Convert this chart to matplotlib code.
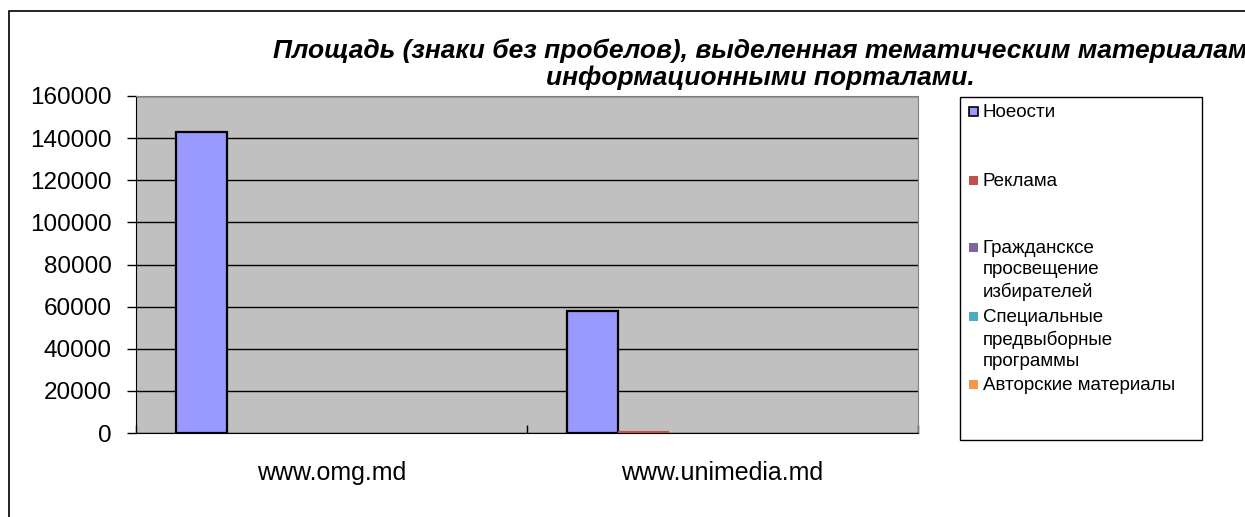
import matplotlib
matplotlib.use("Agg")
import matplotlib.pyplot as plt
from matplotlib.patches import Rectangle
import numpy as np

categories = ["www.omg.md", "www.unimedia.md"]
series_names = ["Ноeости", "Реклама", "Граждансксе\nпросвещение\nизбирателей",
                "Специальные\nпредвыборные\nпрограммы", "Авторские материалы"]
novosti = [143000, 58000]
reklama = [0, 900]
grazhd = [0, 0]
spec = [0, 0]
avtor = [0, 0]
series_values = [novosti, reklama, grazhd, spec, avtor]
colors = ["#9999FF", "#C0504D", "#8064A2", "#4BACC6", "#F79646"]
yticks = [0, 20000, 40000, 60000, 80000, 100000, 120000, 140000, 160000]

plt.rcParams['font.family'] = ['Liberation Sans', 'DejaVu Sans']

W, H = 1245, 517
fig = plt.figure(figsize=(W / 100, H / 100), dpi=100)
fig.patch.set_facecolor("white")

# outer chart border
fig.add_artist(Rectangle((9 / W, -0.05), 1.1, (H - 11) / H + 0.05, transform=fig.transFigure,
                         fill=False, edgecolor="black", linewidth=1.2))

ax = fig.add_axes([136 / W, 84 / H, 782 / W, 337 / H])
ax.set_facecolor("#C0C0C0")
ax.set_axisbelow(True)
ax.yaxis.grid(True, color="black", linewidth=1.0)

x = np.arange(len(categories))
bw = 0.13
start = -0.398
for i, (vals, c) in enumerate(zip(series_values, colors)):
    left = x + start + i * bw
    if i == 0:
        ax.bar(left, vals, width=bw, align="edge", color=c, edgecolor="black", linewidth=1.6, zorder=3)
    else:
        ax.bar(left, vals, width=bw, align="edge", color=c, edgecolor="none", zorder=3)

ax.set_xlim(-0.5, 1.5)
ax.set_ylim(0, 160000)
ax.set_yticks(yticks)
ax.set_yticklabels([str(v) for v in yticks], fontsize=17.5)
ax.set_xticks(x)
ax.set_xticklabels(categories, fontsize=18)
ax.tick_params(axis="x", length=0, pad=20)
ax.tick_params(axis="y", length=6.5, width=1, direction="out", pad=11)
# category boundary ticks
ax.set_xticks([-0.5, 0.5, 1.5], minor=True)
ax.tick_params(axis="x", which="minor", direction="in", length=6, width=1)
for s in ["top", "right"]:
    ax.spines[s].set_color("#808080")
ax.spines["left"].set_color("black")
ax.spines["bottom"].set_color("black")

# title
fig.text(760 / W, 1 - 64 / H, "Площадь (знаки без пробелов), выделенная тематическим материалам\nинформационными порталами.",
         ha="center", va="center", fontsize=19, fontweight="bold", fontstyle="italic",
         linespacing=1.15)

# legend box
fig.add_artist(Rectangle((960 / W, 1 - 440 / H), 242 / W, 343 / H, transform=fig.transFigure,
                         fill=True, facecolor="white", edgecolor="black", linewidth=1.0))
label_y = [111, 180, 247, 316, 384]
for name, c, yy in zip(series_names, colors, label_y):
    ec = "black" if c == "#9999FF" else c
    fig.add_artist(Rectangle((969 / W, 1 - (yy + 5) / H), 9 / W, 9 / H, transform=fig.transFigure,
                             facecolor=c, edgecolor=ec, linewidth=1.2 if ec == "black" else 0))
    fig.text(983 / W, 1 - (yy - 7) / H, name, ha="left", va="top", fontsize=13.5, linespacing=1.3)

fig.savefig("out.png", dpi=100)
